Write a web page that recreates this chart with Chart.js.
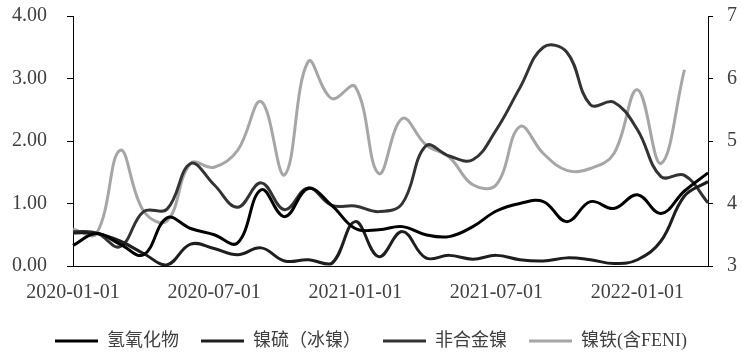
<!DOCTYPE html>
<html><head><meta charset="utf-8">
<script src="https://cdn.jsdelivr.net/npm/chart.js@4.4.1/dist/chart.umd.min.js"></script>
<style>html,body{margin:0;padding:0;background:#fff}</style>
</head><body>
<canvas id="c" width="742" height="359"></canvas>
<script>
const months = ["2020-01-01","2020-02-01","2020-03-01","2020-04-01","2020-05-01","2020-06-01","2020-07-01","2020-08-01","2020-09-01","2020-10-01","2020-11-01","2020-12-01","2021-01-01","2021-02-01","2021-03-01","2021-04-01","2021-05-01","2021-06-01","2021-07-01","2021-08-01","2021-09-01","2021-10-01","2021-11-01","2021-12-01","2022-01-01","2022-02-01","2022-03-01","2022-04-01"];
const shownTicks = ["2020-01-01","2020-07-01","2021-01-01","2021-07-01","2022-01-01"];
const seriesNames = ["氢氧化物","镍硫（冰镍）","非合金镍","镍铁(含FENI)"];
const hydroxide = [0.33,0.52,0.35,0.18,0.77,0.60,0.50,0.37,1.22,0.79,1.24,0.97,0.60,0.58,0.63,0.50,0.47,0.63,0.88,1.00,1.03,0.71,1.03,0.92,1.14,0.84,1.20,1.49];
const matte = [0.53,0.52,0.40,0.20,0.02,0.35,0.28,0.18,0.29,0.08,0.10,0.04,0.71,0.15,0.55,0.13,0.17,0.11,0.17,0.10,0.08,0.13,0.10,0.04,0.10,0.40,1.12,1.35];
const nonAlloy = [0.55,0.53,0.31,0.87,0.91,1.64,1.30,0.94,1.33,0.90,1.25,0.97,0.96,0.87,1.00,1.92,1.76,1.70,2.18,2.85,3.50,3.42,2.58,2.62,2.18,1.43,1.45,1.01];
const ferroNickel = [3.59,3.52,4.85,3.88,3.72,4.64,4.58,4.85,5.63,4.46,6.27,5.68,5.87,4.48,5.36,4.94,4.74,4.30,4.30,5.23,4.80,4.53,4.56,4.80,5.82,4.64,6.14,null];

const tickFont = {family:"'Liberation Serif','Noto Sans CJK SC'", size:20};
const legendHeight = {
  id:'legendHeight',
  beforeLayout(chart){
    const lg = chart.legend;
    if (lg && !lg._fixedH){
      const f = lg.fit;
      lg.fit = function(){ f.call(this); this.height = 49; };
      lg._fixedH = true;
    }
  }
};
function fixVertical(w){
  return function(s){ s.width = w; s.paddingTop = 10; s.paddingBottom = 10; };
}
new Chart(document.getElementById('c'), {
  type:'line',
  plugins:[legendHeight],
  data:{labels:months, datasets:[
    {label:seriesNames[0], data:hydroxide, borderColor:'#000000', borderWidth:3, yAxisID:'y'},
    {label:seriesNames[1], data:matte, borderColor:'#1e1e1e', borderWidth:3, yAxisID:'y'},
    {label:seriesNames[2], data:nonAlloy, borderColor:'#333333', borderWidth:3, yAxisID:'y'},
    {label:seriesNames[3], data:ferroNickel, borderColor:'#a6a6a6', borderWidth:3, yAxisID:'y1'}
  ]},
  options:{
    responsive:false, animation:false, devicePixelRatio:1,
    layout:{padding:{left:0,right:0,top:16,bottom:0}},
    elements:{line:{tension:0.4,borderWidth:3,fill:false}, point:{radius:0}},
    plugins:{
      legend:{position:'bottom', labels:{usePointStyle:true, pointStyle:'line', pointStyleWidth:43, padding:22, color:'#404040', font:{family:"'Liberation Serif','Noto Sans CJK SC'", size:18}}},
      tooltip:{enabled:false}
    },
    scales:{
      x:{grid:{display:false}, border:{color:'#000000', width:1},
         ticks:{autoSkip:false, maxRotation:0, minRotation:0, color:'#404040', font:tickFont, padding:7,
                callback:function(v,i){ return shownTicks.includes(months[i]) ? months[i] : ''; }},
         afterFit:function(s){ s.height = 44; }},
      y:{position:'left', min:0, max:4,
         ticks:{stepSize:1, color:'#404040', font:tickFont, padding:20, callback:function(v){ return v.toFixed(2); }},
         grid:{drawOnChartArea:false, tickLength:6, color:'#000000'}, border:{color:'#000000', width:1},
         afterFit:fixVertical(73)},
      y1:{position:'right', min:3, max:7,
         ticks:{stepSize:1, color:'#404040', font:tickFont, padding:14},
         grid:{drawOnChartArea:false, tickLength:5, color:'#000000'}, border:{color:'#000000', width:1},
         afterFit:fixVertical(34)}
    }
  }
});
</script>
</body></html>
